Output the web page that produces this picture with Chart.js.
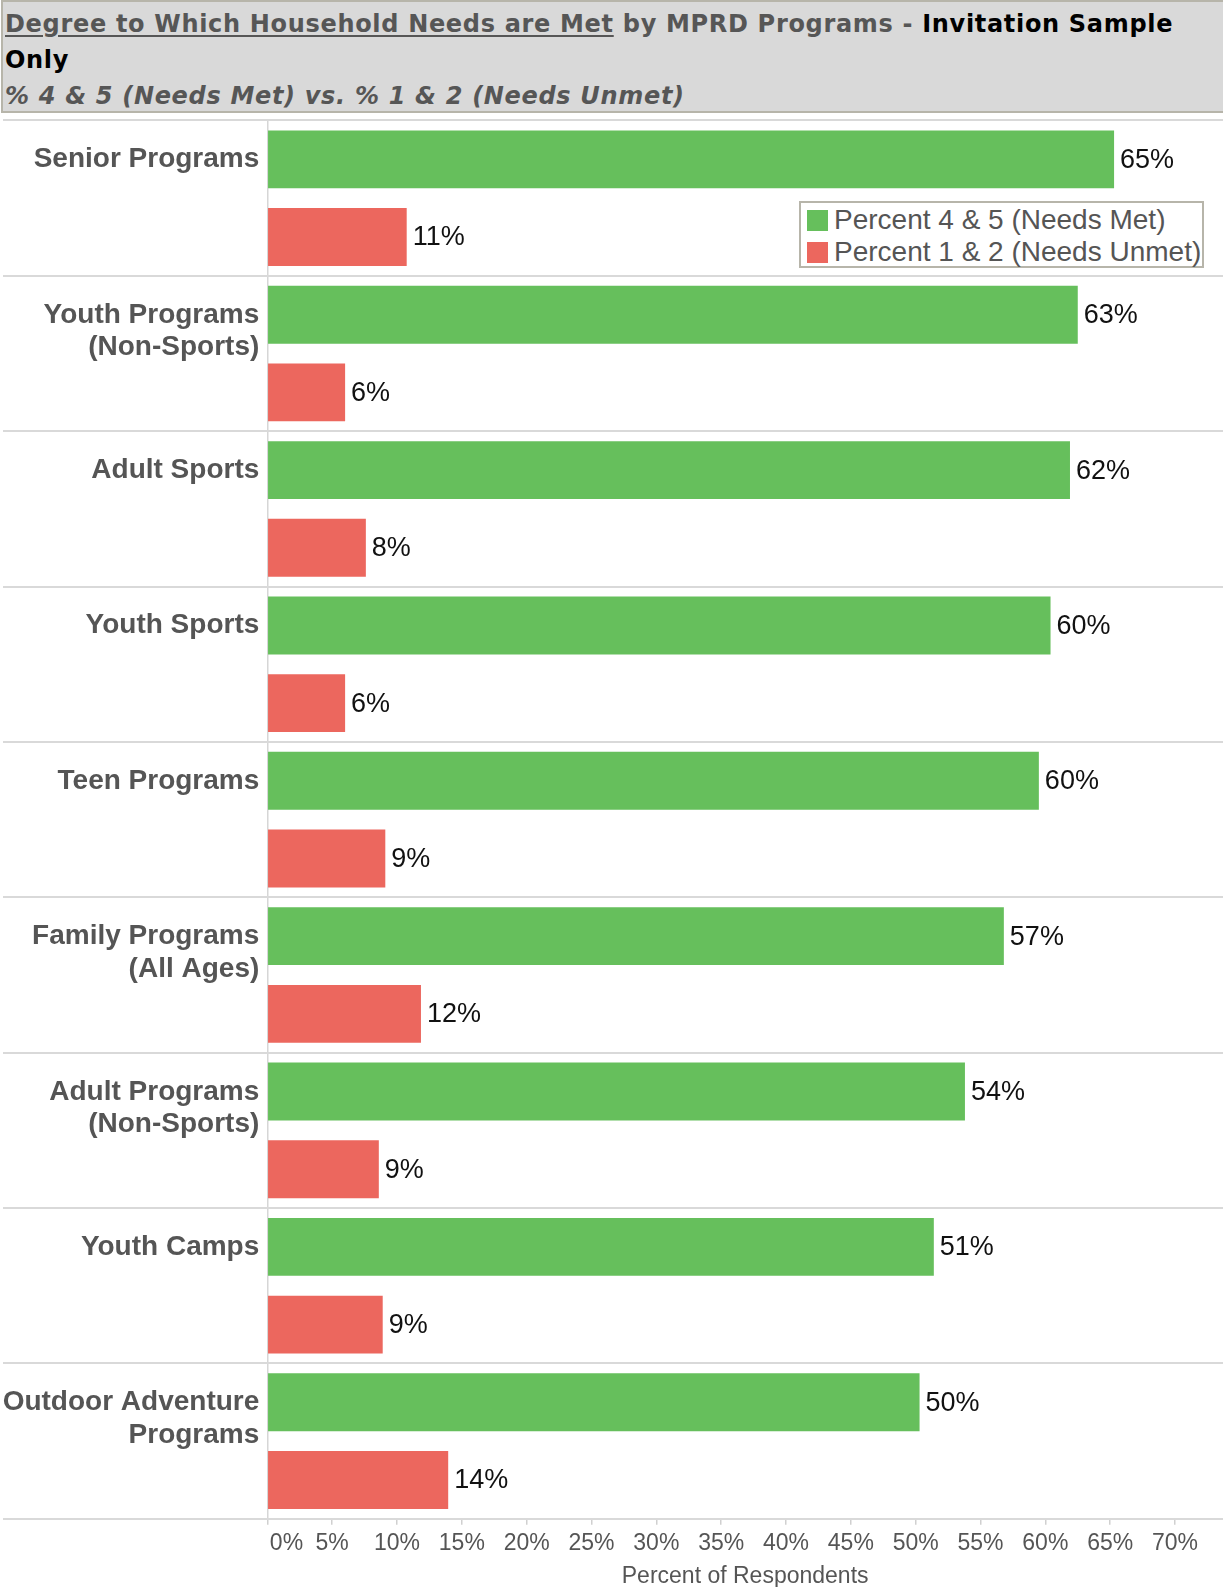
<!DOCTYPE html>
<html>
<head>
<meta charset="utf-8">
<script src="https://cdn.jsdelivr.net/npm/chart.js@4/dist/chart.umd.min.js"></script>
<style>
  html, body { margin: 0; padding: 0; background: #ffffff; width: 1223px; height: 1587px; overflow: hidden; }
  #title {
    position: absolute; left: 1px; top: 0; width: 1220px; height: 105px;
    background: #d9d9d9; border: 2px solid #b7b5aa; border-right: none;
    padding: 4px 0 0 2px;
    font-family: "DejaVu Sans", sans-serif; font-weight: bold; font-size: 24px;
    letter-spacing: 0.68px;
    line-height: 36px; color: #565656; white-space: nowrap; overflow: visible;
  }
  #title .u { text-decoration: underline; text-decoration-thickness: 2px; text-underline-offset: 3px; }
  #title .b { color: #000000; }
  #title .sub { font-style: italic; color: #565656; }
  #wrap { position: absolute; left: 0; top: 114px; width: 1223px; height: 1473px; }
  #legend {
    position: absolute; left: 799px; top: 201px; width: 401px; height: 62px;
    border: 2px solid #b7b5aa; background: #ffffff;
    font-family: "Liberation Sans", Arial, sans-serif; font-size: 28px; color: #555555;
    padding-top: 1px;
  }
  #legend .row { height: 32px; line-height: 32px; display: flex; align-items: center; white-space: nowrap; }
  #legend .sw { width: 21px; height: 21px; margin-left: 6px; margin-right: 6px; flex: none; }
</style>
</head>
<body>
<div id="title"><span class="u">Degree to Which Household Needs are Met</span> by MPRD Programs - <span class="b">Invitation Sample<br>Only</span><br><span class="sub">% 4 &amp; 5 (Needs Met) vs. % 1 &amp; 2 (Needs Unmet)</span></div>
<div id="wrap"><canvas id="c"></canvas></div>
<div id="legend"></div>
<script>
// ---- Data ----
const categories = [
  ['Senior Programs', ''],
  ['Youth Programs', '(Non-Sports)'],
  ['Adult Sports', ''],
  ['Youth Sports', ''],
  ['Teen Programs', ''],
  ['Family Programs', '(All Ages)'],
  ['Adult Programs', '(Non-Sports)'],
  ['Youth Camps', ''],
  ['Outdoor Adventure', 'Programs']
];
const seriesNames = ['Percent 4 & 5 (Needs Met)', 'Percent 1 & 2 (Needs Unmet)'];
const needsMet   = [65.3, 62.5, 61.9, 60.4, 59.5, 56.8, 53.8, 51.4, 50.3];
const needsUnmet = [10.75, 6.0, 7.6, 6.0, 9.1, 11.85, 8.6, 8.9, 13.95];
const xTicks = [0, 5, 10, 15, 20, 25, 30, 35, 40, 45, 50, 55, 60, 65, 70];
const seriesColors = ['#66bf5c', '#ec675e'];

// ---- HTML legend built from the series ----
const legendEl = document.getElementById('legend');
seriesNames.forEach((name, i) => {
  const row = document.createElement('div');
  row.className = 'row';
  const sw = document.createElement('span');
  sw.className = 'sw';
  sw.style.background = seriesColors[i];
  const tx = document.createElement('span');
  tx.textContent = name;
  row.appendChild(sw); row.appendChild(tx);
  legendEl.appendChild(row);
});

// ---- Plugins ----
const separators = {
  id: 'separators',
  afterDraw(chart) {
    const y = chart.scales.y;
    const n = categories.length;
    const band = y.getPixelForValue(1) - y.getPixelForValue(0);
    const ctx = chart.ctx;
    ctx.save();
    ctx.strokeStyle = '#d9d9d9';
    ctx.lineWidth = 2;
    for (let i = 0; i <= n; i++) {
      const py = Math.round(y.getPixelForValue(0) - band / 2 + i * band);
      ctx.beginPath();
      ctx.moveTo(3, py);
      ctx.lineTo(chart.width, py);
      ctx.stroke();
    }
    ctx.restore();
  }
};
const valueLabels = {
  id: 'valueLabels',
  afterDatasetsDraw(chart) {
    const ctx = chart.ctx;
    ctx.save();
    ctx.font = '27px "Liberation Sans", Arial, sans-serif';
    ctx.fillStyle = '#111111';
    ctx.textAlign = 'left';
    ctx.textBaseline = 'middle';
    chart.data.datasets.forEach((ds, di) => {
      const meta = chart.getDatasetMeta(di);
      meta.data.forEach((el, i) => {
        ctx.fillText(Math.round(ds.data[i]) + '%', el.x + 6, el.y + 1);
      });
    });
    ctx.restore();
  }
};

new Chart(document.getElementById('c'), {
  type: 'bar',
  data: {
    labels: categories,
    datasets: [
      { label: seriesNames[0], data: needsMet, backgroundColor: seriesColors[0], categoryPercentage: 1, barPercentage: 0.745 },
      { label: seriesNames[1], data: needsUnmet, backgroundColor: seriesColors[1], categoryPercentage: 1, barPercentage: 0.745 }
    ]
  },
  plugins: [separators, valueLabels],
  options: {
    indexAxis: 'y',
    responsive: true,
    maintainAspectRatio: false,
    animation: false,
    layout: { padding: { top: 6.5, right: 0, left: 0, bottom: 0 } },
    plugins: { legend: { display: false }, tooltip: { enabled: false } },
    scales: {
      y: {
        grid: { display: false },
        border: { display: true, color: '#d6d6d6', width: 1.5 },
        ticks: {
          font: { family: '"Liberation Sans", Arial, sans-serif', size: 28, weight: 'bold', lineHeight: 1.16 },
          color: '#555555',
          padding: 0,
          labelOffset: -22.3,
          crossAlign: 'near'
        },
        afterFit(scale) { scale.width = 267.3; scale.paddingTop = 0; scale.paddingBottom = 0; }
      },
      x: {
        min: 0,
        max: 73.7,
        afterBuildTicks(scale) { scale.ticks = xTicks.map(v => ({ value: v })); },
        grid: { drawOnChartArea: false, drawTicks: true, tickLength: 6, color: '#d0d0d0', lineWidth: 1.5 },
        border: { display: true, color: '#d9d9d9', width: 2 },
        ticks: {
          font: { family: '"Liberation Sans", Arial, sans-serif', size: 23 },
          color: '#555555',
          padding: 5,
          maxRotation: 0,
          autoSkip: false,
          callback: (v) => (v === 0 ? '      0%' : v + '%')
        },
        title: {
          display: true,
          text: 'Percent of Respondents',
          font: { family: '"Liberation Sans", Arial, sans-serif', size: 23 },
          color: '#555555',
          padding: { top: 0, bottom: -3 }
        },
        afterFit(scale) { scale.paddingLeft = 0; scale.paddingRight = 0; }
      }
    }
  }
});
</script>
</body>
</html>
